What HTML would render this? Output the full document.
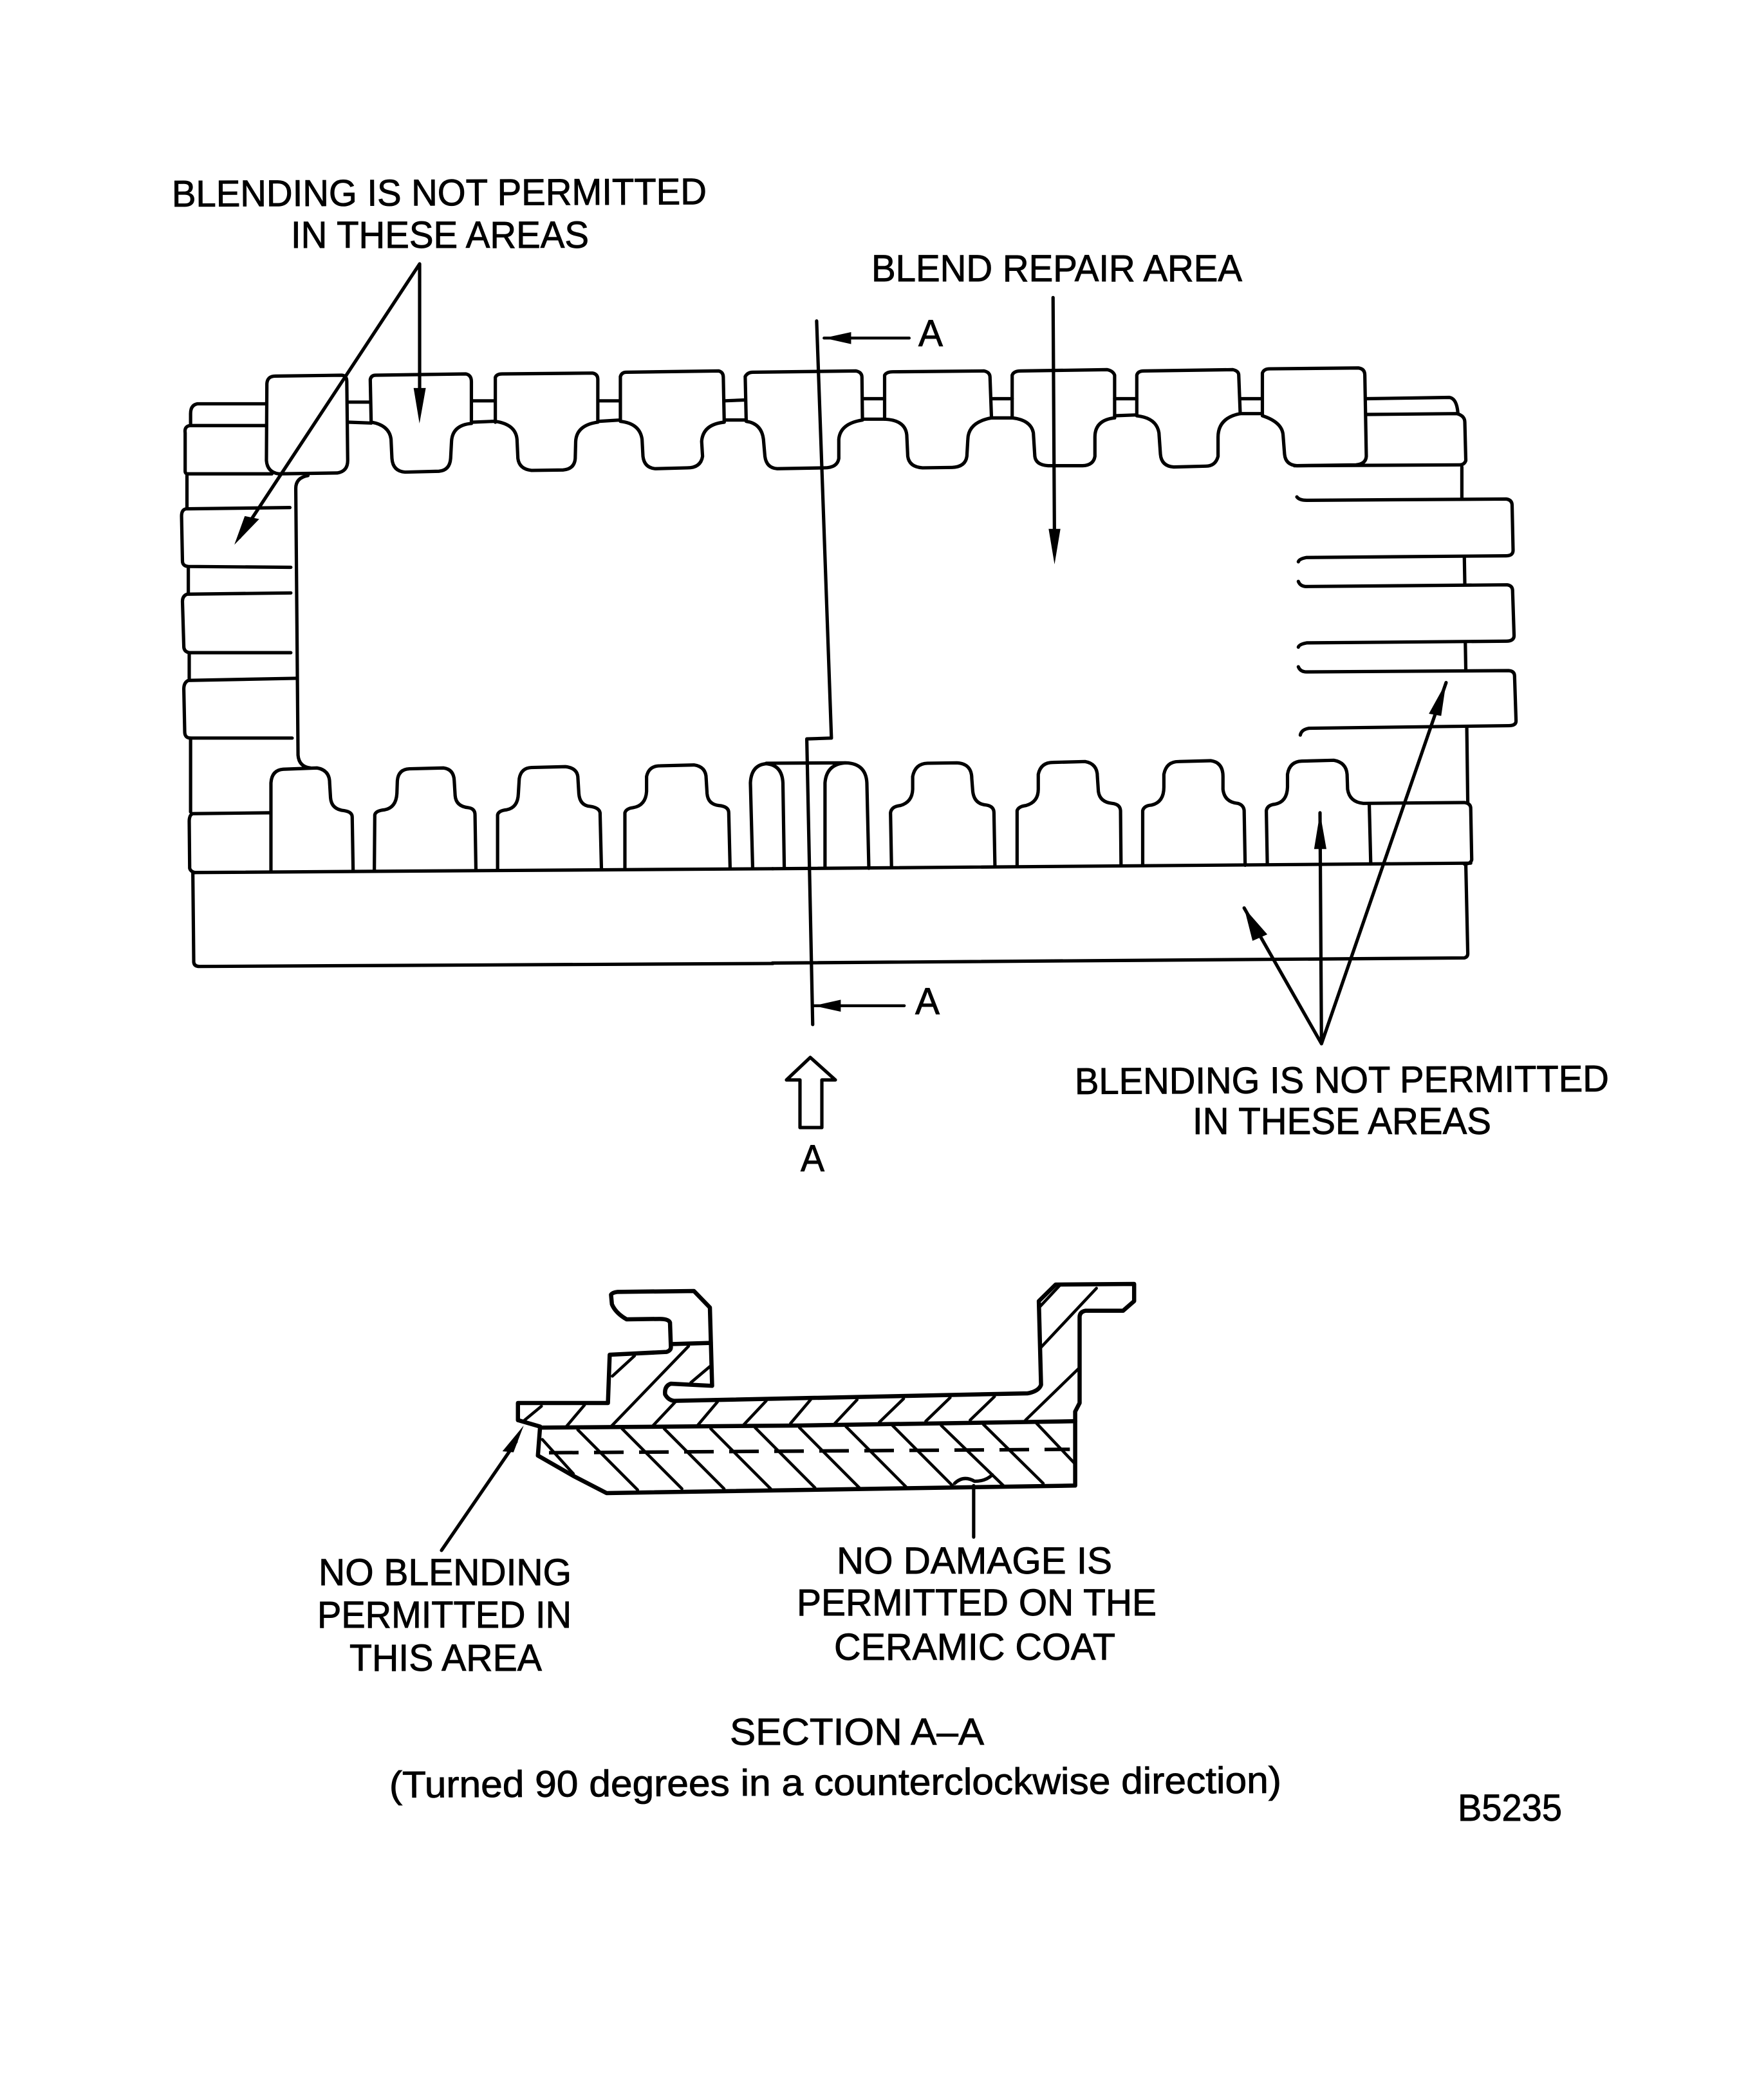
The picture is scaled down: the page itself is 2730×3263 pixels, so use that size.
<!DOCTYPE html>
<html><head><meta charset="utf-8"><style>
html,body{margin:0;padding:0;background:#fff}
svg{display:block}
path,line,polyline{fill:none;stroke:#000;stroke-width:5.2;vector-effect:non-scaling-stroke;stroke-linejoin:round;stroke-linecap:round}
.t{stroke-width:4.5}
.h{stroke-width:4.6}
polygon{fill:#000;stroke:none}
text{font-family:"Liberation Sans",sans-serif;font-size:58px;fill:#000;stroke:#000;stroke-width:.9}
</style></head><body>
<svg width="2730" height="3263" viewBox="0 0 2730 3263" xmlns="http://www.w3.org/2000/svg">
<!-- left half -->
<g transform="translate(240,520) scale(.7015,.6633)">
<path d="M249,115 Q250,97 268,97 L415,95 Q426,96 426,110 L428,295 Q428,320 405,324 L275,326 Q250,322 248,295 Z"/>
<path d="M245,162 L95,162 Q80,165 80,185 L80,210"/>
<path d="M245,213 L78,213 Q66,215 68,230 L68,320 Q68,326 74,326 L260,326"/>
<path d="M72,330 L72,405"/>
<path d="M300,405 L70,408 Q60,410 60,425 L62,530 Q62,542 75,543 L302,545"/>
<path d="M75,545 L75,605"/>
<path d="M302,605 L72,608 Q62,612 62,625 L65,730 Q65,743 78,745 L302,745"/>
<path d="M77,745 L77,805"/>
<path d="M315,805 L75,810 Q65,815 65,830 L67,930 Q67,945 80,945 L305,945"/>
<path d="M80,945 L80,1118"/>
<path d="M257,1120 L85,1122 Q77,1125 77,1140 L78,1250 Q80,1258 90,1260"/>
<path d="M340,330 Q313,335 313,360 L318,985 Q320,1012 345,1015"/>
<path d="M258,1255 L258,1050 Q260,1020 285,1018 L360,1015 Q388,1020 388,1050 L390,1085 Q392,1112 420,1115 Q438,1118 438,1130 L440,1255"/>
<path d="M487,1255 L488,1125 Q490,1115 510,1113 Q535,1108 537,1075 L538,1045 Q540,1018 565,1017 L640,1015 Q663,1018 664,1045 L666,1080 Q668,1105 695,1108 Q710,1110 710,1125 L712,1253"/>
<path d="M760,1253 L760,1125 Q762,1115 780,1113 Q805,1108 806,1075 L808,1040 Q812,1015 835,1014 L910,1012 Q938,1015 938,1040 L940,1075 Q942,1103 965,1105 Q985,1108 987,1120 L990,1250"/>
<path d="M1042,1250 L1042,1120 Q1045,1110 1060,1108 Q1088,1103 1090,1070 L1090,1035 Q1095,1010 1120,1010 L1195,1008 Q1222,1012 1222,1040 L1224,1075 Q1226,1100 1250,1103 Q1272,1105 1272,1120 L1275,1250"/>
<path d="M1325,1250 L1320,1050 Q1322,1008 1355,1005 Q1390,1008 1392,1050 L1395,1250"/>
<path d="M1355,1004 L1530,1003"/>
<path d="M430,158 L478,158 M430,205 L480,207 M705,155 L752,155 M705,205 L752,203 M985,155 L1030,155 M985,203 L1030,200 M1262,155 L1308,153 M1262,200 L1310,200"/>
<path d="M480,207 L478,105 Q480,95 490,95 L690,92 Q702,95 702,110 L702,208 Q660,212 658,250 L656,290 Q654,318 630,320 L555,322 Q528,320 526,290 L524,245 Q520,212 480,205"/>
<path d="M755,205 L755,100 Q758,92 770,92 L970,90 Q982,92 982,105 L982,205 Q935,212 933,250 L932,290 Q930,315 905,317 L835,318 Q808,315 805,290 L803,245 Q800,210 755,203"/>
<path d="M1032,203 L1032,98 Q1035,88 1045,88 L1250,85 Q1260,88 1260,100 L1262,205 Q1215,210 1212,250 L1214,285 Q1210,312 1180,312 L1110,314 Q1085,312 1082,285 L1080,245 Q1075,208 1032,203"/>
<path d="M85,1260 L1370,1251"/>
<path d="M85,1260 L87,1470 Q88,1480 100,1480 L1370,1473"/>
<polygon points="587,208 574,125 601,125"/>
<polygon points="177,492 200,425 232,432"/>
</g>
<!-- right half -->
<g transform="translate(1200,520) scale(.7653,.6633)">
<path d="M107,1248 L107,1050 Q110,1005 150,1003 Q190,1005 192,1050 L196,1250"/>
<path d="M-53,203 L-55,98 Q-50,88 -40,88 L170,85 Q182,88 182,100 L183,200 Q138,208 135,245 L135,290 Q132,312 105,312 L10,314 Q-12,312 -15,285 L-18,245 Q-22,208 -53,203"/>
<path d="M183,150 L228,150 M183,198 L228,198 M445,150 L487,150 M445,195 L487,195 M695,150 L740,150 M695,190 L740,188 M950,150 L995,150 M950,185 L995,185"/>
<path d="M228,198 L228,95 Q232,87 245,87 L430,85 Q442,88 442,100 L445,195 Q398,205 397,245 L395,285 Q392,310 365,311 L305,312 Q278,310 275,285 L273,235 Q270,200 228,198"/>
<path d="M487,195 L487,95 Q490,85 505,85 L680,82 Q692,85 695,95 L695,195 Q655,200 655,240 L655,285 Q652,306 630,307 L560,307 Q535,305 533,285 L530,230 Q525,200 487,195"/>
<path d="M740,190 L740,95 Q742,85 755,85 L935,82 Q947,85 947,95 L950,185 Q905,195 905,240 L905,285 Q900,308 880,308 L815,310 Q790,308 788,280 L785,230 Q780,195 740,190"/>
<path d="M995,190 L995,90 Q998,80 1010,80 L1190,78 Q1203,80 1203,95 L1206,285 Q1205,303 1185,305 L1065,307 Q1042,305 1040,280 L1037,235 Q1035,205 995,190"/>
<path d="M1206,150 L1375,147 Q1390,150 1392,185"/>
<path d="M1206,187 L1390,185 Q1406,190 1406,205 L1408,295 Q1405,305 1395,305 L1060,307"/>
<path d="M1400,310 L1400,382 M1405,520 L1406,585 M1407,720 L1408,785 M1410,920 L1412,1095"/>
<path d="M1065,380 Q1070,388 1085,388 L1490,385 Q1502,387 1502,400 L1504,505 Q1504,518 1490,518 L1085,522 Q1070,525 1068,532"/>
<path d="M1068,578 Q1072,590 1085,590 L1492,586 Q1503,588 1503,600 L1506,705 Q1506,718 1490,718 L1085,722 Q1070,725 1068,732"/>
<path d="M1068,778 Q1072,790 1085,790 L1495,787 Q1507,788 1507,800 L1510,905 Q1510,916 1495,916 L1090,922 Q1074,925 1072,938"/>
<path d="M242,1245 L240,1120 Q242,1105 260,1103 Q284,1095 285,1065 L285,1035 Q290,1005 315,1004 L375,1003 Q405,1005 405,1040 L407,1070 Q410,1100 435,1102 Q450,1105 450,1120 L452,1245"/>
<path d="M497,1245 L497,1115 Q500,1105 515,1103 Q540,1095 540,1065 L540,1030 Q545,1002 570,1002 L635,1000 Q660,1005 660,1035 L662,1070 Q665,1095 690,1098 Q706,1100 707,1115 L708,1243"/>
<path d="M752,1243 L752,1115 Q755,1103 770,1102 Q795,1095 795,1060 L795,1030 Q800,1000 825,1000 L890,998 Q915,1002 915,1035 L915,1065 Q918,1095 945,1098 Q957,1102 958,1115 L960,1243"/>
<path d="M1005,1240 L1003,1115 Q1005,1102 1020,1100 Q1045,1095 1046,1060 L1046,1030 Q1050,1000 1075,999 L1140,997 Q1165,1002 1167,1030 L1168,1065 Q1172,1095 1200,1098 L1405,1096 Q1418,1098 1418,1110 L1420,1230 Q1418,1240 1405,1240"/>
<path d="M1212,1100 L1215,1240"/>
<path d="M0,1251 L1418,1238"/>
<path d="M0,1472 L1405,1460 Q1412,1458 1412,1450 L1408,1240"/>
<path d="M90,-32 L120,945 L70,947 L82,1616"/>
<path class="t" d="M278,8 L105,8"/><polygon points="105,8 160,-6 160,22"/>
<path class="t" d="M268,1572 L84,1572"/><polygon points="84,1572 139,1558 139,1586"/>
<path d="M570,-87 L573,500"/><polygon points="573,538 561,455 585,455"/>
<path d="M958,1343 L1115,1661 M1112,1120 L1115,1661 M1368,815 L1115,1661"/>
<polygon points="958,1343 975,1420 1005,1405"/>
<polygon points="1112,1120 1100,1205 1125,1205"/>
<polygon points="1368,815 1333,888 1358,893"/>
</g>
<!-- leaders -->
<path d="M652,410 L372,835 M652,410 L652,640"/>
<!-- hollow arrow -->
<path d="M1259,1643 L1298,1678 L1277,1678 L1277,1752 L1243,1752 L1243,1678 L1222,1678 Z"/>
<!-- section -->
<g transform="translate(760,1980) scale(.6888,.3333)">
<path style="stroke-width:6.5" d="M65,680 L65,600 L268,600 L272,375 L400,362 Q410,355 410,340 L408,225 Q405,208 385,208 L310,210 Q285,180 277,140 L275,95 Q278,85 290,82 L462,78 L498,155 L503,520 L410,510 Q395,520 397,560 Q405,590 420,590 L1215,555 Q1240,545 1245,515 L1240,125 L1278,48 L1455,45 L1455,125 L1430,170 L1345,170 Q1332,175 1332,200 L1332,600 L1322,640 L1322,985 L265,1020 L190,940 L110,845 L115,710 L65,680"/>
<path style="stroke-width:6.5" d="M415,325 L500,320 M115,715 L700,705 L1322,685"/>
<path class="h" d="M118,615 L80,680 M215,610 L172,715 M328,380 L278,475 M450,335 L275,710 M498,430 L455,505 M420,595 L370,705 M515,595 L470,705 M625,590 L575,700 M725,585 L680,695 M830,585 L780,695 M935,580 L880,690 M1040,575 L985,685 M1140,570 L1085,680 M1332,435 L1210,680 M1370,65 L1243,345 M1288,50 L1243,150"/>
<path class="h" d="M200,725 L335,1005 M300,720 L435,1000 M395,720 L530,1000 M500,720 L635,1000 M600,715 L735,995 M700,715 L835,995 M805,710 L940,990 M910,705 L1045,985 M1020,705 L1160,985 M1115,700 L1250,975 M1235,695 L1320,880 M120,770 L190,930"/>
<path style="stroke-width:5.5;stroke-dasharray:46 24;stroke-linecap:butt" d="M135,832 L1310,816"/>
<path d="M1050,975 Q1070,935 1095,965 Q1120,965 1135,935"/>
<path d="M1093,985 L1093,1225"/>
<polygon points="78,705 30,825 55,830"/>
</g>
<path d="M686,2409 L802,2240"/>
<!-- text -->
<g>
<text x="267" y="321" textLength="831" lengthAdjust="spacingAndGlyphs" transform="rotate(-.25 267 321)">BLENDING IS NOT PERMITTED</text>
<text x="452" y="385" textLength="463" lengthAdjust="spacingAndGlyphs">IN THESE AREAS</text>
<text x="1354" y="437" textLength="576" lengthAdjust="spacingAndGlyphs">BLEND REPAIR AREA</text>
<text x="1427" y="538" textLength="38" lengthAdjust="spacingAndGlyphs">A</text>
<text x="1422" y="1576" textLength="38" lengthAdjust="spacingAndGlyphs">A</text>
<text x="1670" y="1700" textLength="830" lengthAdjust="spacingAndGlyphs" transform="rotate(-.3 1670 1700)">BLENDING IS NOT PERMITTED</text>
<text x="1853" y="1762" textLength="464" lengthAdjust="spacingAndGlyphs">IN THESE AREAS</text>
<text x="1244" y="1820" textLength="37" lengthAdjust="spacingAndGlyphs">A</text>
<text x="495" y="2463" textLength="393" lengthAdjust="spacingAndGlyphs">NO BLENDING</text>
<text x="493" y="2529" textLength="395" lengthAdjust="spacingAndGlyphs">PERMITTED IN</text>
<text x="543" y="2596" textLength="299" lengthAdjust="spacingAndGlyphs">THIS AREA</text>
<text x="1300" y="2445" textLength="428" lengthAdjust="spacingAndGlyphs">NO DAMAGE IS</text>
<text x="1238" y="2510" textLength="559" lengthAdjust="spacingAndGlyphs">PERMITTED ON THE</text>
<text x="1296" y="2579" textLength="437" lengthAdjust="spacingAndGlyphs">CERAMIC COAT</text>
<text x="1134" y="2711" textLength="395" lengthAdjust="spacingAndGlyphs">SECTION A–A</text>
<text x="605" y="2793" textLength="1386" lengthAdjust="spacingAndGlyphs" transform="rotate(-.3 605 2793)">(Turned 90 degrees in a counterclockwise direction)</text>
<text x="2265" y="2829" textLength="162" lengthAdjust="spacingAndGlyphs">B5235</text>
</g>
</svg>
</body></html>
